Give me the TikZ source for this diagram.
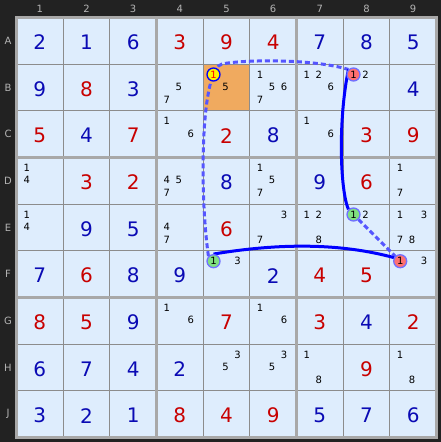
\documentclass[tikz,border=0pt]{standalone}
\usepackage{fontspec}
\setmainfont{DejaVu Sans}
\pgfdeclarelayer{gridlayer}
\pgfdeclarelayer{linelayer}
\pgfsetlayers{gridlayer,linelayer,main}
\definecolor{bgc}{HTML}{222222}
\definecolor{cellc}{HTML}{DEEDFD}
\definecolor{thinc}{HTML}{8C8C8C}
\definecolor{thickc}{HTML}{A8A8A8}
\definecolor{giv}{HTML}{0A0AB4}
\definecolor{sol}{HTML}{C80000}
\definecolor{orng}{HTML}{F0AA5F}
\definecolor{lbl}{HTML}{B4B4B4}
\definecolor{solidc}{HTML}{0000FF}
\definecolor{dashc}{HTML}{5555FF}
\definecolor{ringc}{HTML}{7070FF}
\definecolor{redf}{HTML}{FF7070}
\definecolor{greenf}{HTML}{80E080}
\begin{document}
\begin{tikzpicture}[x=1pt,y=-1pt,
  big/.style={font=\fontsize{20}{20}\selectfont, inner sep=0pt},
  cand/.style={font=\fontsize{10}{10}\selectfont, inner sep=0pt, text=black},
  hdr/.style={font=\fontsize{10}{10}\selectfont, text=lbl, inner sep=0pt},
  ringnode/.style={circle, inner sep=0pt, minimum size=13pt, line width=1.3pt, draw=ringc, font=\fontsize{10}{10}\selectfont},
  solidlink/.style={draw=solidc, line width=3pt},
  dashlink/.style={draw=dashc, line width=3pt, dash pattern=on 5pt off 3pt}]
\useasboundingbox (0,0) rectangle (441,442);
\begin{pgfonlayer}{gridlayer}
\fill[bgc] (0,0) rectangle (441,442);
\fill[cellc] (16.5,17.5) rectangle (436.5,437.5);
\fill[orng] ({16.5+4*46.667},{17.5+46.667}) rectangle ({16.5+5*46.667},{17.5+2*46.667});
\foreach \i in {1,2,4,5,7,8} {
  \draw[thinc, line width=1pt] ({16.5+\i*46.667},17.5) -- ({16.5+\i*46.667},437.5);
  \draw[thinc, line width=1pt] (16.5,{17.5+\i*46.667}) -- (436.5,{17.5+\i*46.667});
}
\foreach \i in {3,6} {
  \draw[thickc, line width=3pt] ({16.5+\i*46.667},17.5) -- ({16.5+\i*46.667},437.5);
  \draw[thickc, line width=3pt] (16.5,{17.5+\i*46.667}) -- (436.5,{17.5+\i*46.667});
}
\draw[thickc, line width=3pt] (16.5,17.5) rectangle (436.5,437.5);
\end{pgfonlayer}
% headers
\foreach \c in {1,...,9} {
  \node[hdr] (col\c) at ({16.5+(\c-0.5)*46.667},8.5) {\c};
}
\foreach \l [count=\r] in {A,B,C,D,E,F,G,H,J} {
  \node[hdr] (row\l) at (8,{17.5+(\r-0.5)*46.667}) {\l};
}
% big digits
\foreach \r/\c/\d/\col in {
 1/1/2/giv,1/2/1/giv,1/3/6/giv,1/4/3/sol,1/5/9/sol,1/6/4/sol,1/7/7/giv,1/8/8/giv,1/9/5/giv,
 2/1/9/giv,2/2/8/sol,2/3/3/giv,2/9/4/giv,
 3/1/5/sol,3/2/4/giv,3/3/7/sol,3/5/2/sol,3/6/8/giv,3/8/3/sol,3/9/9/sol,
 4/2/3/sol,4/3/2/sol,4/5/8/giv,4/7/9/giv,4/8/6/sol,
 5/2/9/giv,5/3/5/giv,5/5/6/sol,
 6/1/7/giv,6/2/6/sol,6/3/8/giv,6/4/9/giv,6/6/2/giv,6/7/4/sol,6/8/5/sol,
 7/1/8/sol,7/2/5/sol,7/3/9/giv,7/5/7/sol,7/7/3/sol,7/8/4/giv,7/9/2/sol,
 8/1/6/giv,8/2/7/giv,8/3/4/giv,8/4/2/giv,8/8/9/sol,
 9/1/3/giv,9/2/2/giv,9/3/1/giv,9/4/8/sol,9/5/4/sol,9/6/9/sol,9/7/5/giv,9/8/7/giv,9/9/6/giv} {
  \node[big, text=\col] (n\r\c) at ({16.5+(\c-0.5)*46.667},{17.5+(\r-0.5)*46.667+1.5}) {\d};
}
% candidates
\foreach \r/\c/\lst in {
 2/4/{5,7},2/5/{5},2/6/{1,5,6,7},2/7/{1,2,6},2/8/{2},
 3/4/{1,6},3/7/{1,6},
 4/1/{1,4},4/4/{4,5,7},4/6/{1,5,7},4/9/{1,7},
 5/1/{1,4},5/4/{4,7},5/6/{3,7},5/7/{1,2,8},5/8/{2},5/9/{1,3,7,8},
 6/5/{3},6/9/{3},
 7/4/{1,6},7/6/{1,6},
 8/5/{3,5},8/6/{3,5},8/7/{1,8},8/9/{1,8}} {
  \foreach \d in \lst {
    \pgfmathtruncatemacro\cx{mod(\d-1,3)}
    \pgfmathtruncatemacro\cy{div(\d-1,3)}
    \node[cand] (k\r\c\d) at ({16.5+(\c-0.5)*46.667-13+12*\cx},{17.5+(\r-0.5)*46.667-13+12.5*\cy}) {\d};
  }
}
% marked candidates
\node[ringnode, fill=yellow, draw=blue] (b5c) at (213.5,74.5) {\textcolor{red}{1}};
\node[ringnode, fill=redf] (b8c) at (353.5,74.5) {1};
\node[ringnode, fill=greenf] (e8c) at (353.5,214.5) {1};
\node[ringnode, fill=greenf] (f5c) at (213.5,261.2) {1};
\node[ringnode, fill=redf] (f9c) at (400.2,261.2) {1};
\coordinate (bend) at (222,64);
% links
\begin{pgfonlayer}{linelayer}
\draw[dashlink] (f5c.north west) .. controls (199,190) and (201,68) .. (bend)
   .. controls (240,60) and (310,58) .. (b8c.north west);
\draw[solidlink] (b8c.north west) .. controls (338,120) and (340,190) .. (e8c.north west);
\draw[dashlink] (e8c.south east) -- (f9c.north west);
\draw[solidlink] (f5c.north) .. controls (280,243) and (340,243) .. (f9c.150);
\end{pgfonlayer}
\end{tikzpicture}
\end{document}
